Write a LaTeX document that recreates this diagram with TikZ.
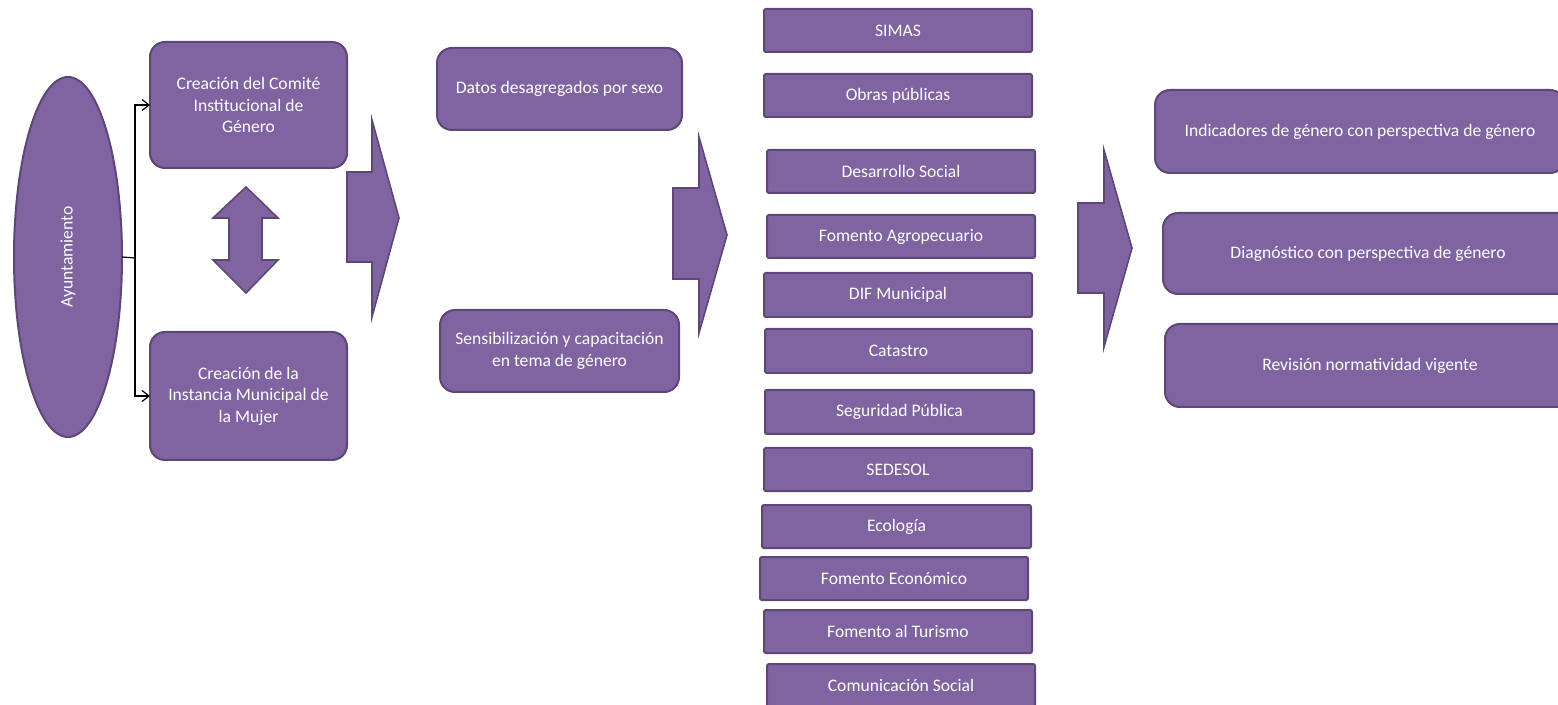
\documentclass[tikz,border=0pt]{standalone}
\usepackage{fontspec}
\setmainfont{Carlito}
\usetikzlibrary{shapes.geometric,arrows.meta}
\definecolor{pfill}{HTML}{8064A2}
\definecolor{pdraw}{HTML}{5C4776}
\tikzset{
  base/.style={fill=pfill,draw=pdraw,line width=1pt,text=white,font=\fontsize{8.8}{10.8}\selectfont,align=center,inner sep=0pt,outer sep=0pt},
  rbox/.style={base,rounded corners=7.5pt},
  sbox/.style={base,rounded corners=1pt},
  bigarrow/.style={fill=pfill,draw=pdraw,line width=0.8pt,line join=miter},
  conn/.style={draw=black,line width=0.6pt,-{Straight Barb[length=3.5pt,width=5.5pt]}}
}
\newcommand{\bx}[7]{\node[#1, minimum width={(#5-#3)*0.5pt}, minimum height={(#6-#4)*0.5pt}] (#2) at ({(#3+#5)/2},{(#4+#6)/2}) {#7};}
\begin{document}
\begin{tikzpicture}[x=0.5pt,y=-0.5pt]
\useasboundingbox (0,0) rectangle (1558,705);
\clip (0,0) rectangle (1558,705);
% ellipse
\node[base,ellipse,minimum width=54pt,minimum height=180pt] (ayu) at (68,257) {\rotatebox{90}{Ayuntamiento}};
% left boxes
\bx{rbox}{comite}{150}{42}{347}{168}{Creación del Comité\\Institucional de\\Género}
\bx{rbox}{instancia}{150}{332}{347}{460}{Creación de la\\Instancia Municipal de\\la Mujer}
% connectors
\coordinate (j) at (135,258);
\draw[line width=0.6pt] (ayu.east) -- (j);
\draw[conn] (j) |- (comite.west);
\draw[conn] (j) |- (instancia.west);
% double arrow
\draw[bigarrow] (246,187) -- (278,218) -- (262,218) -- (262,260) -- (278,260) -- (246,293) -- (213,260) -- (229,260) -- (229,218) -- (213,218) -- cycle;
% big arrow 1
\draw[bigarrow] (347,172) -- (372,172) -- (372,120) -- (399,218) -- (372,317) -- (372,262) -- (347,262) -- cycle;
% middle boxes
\bx{rbox}{datos}{437}{48}{682}{130}{Datos desagregados por sexo}
\bx{rbox}{sensi}{440}{310}{679}{392}{Sensibilización y capacitación\\en tema de género}
% big arrow 2
\draw[bigarrow] (673,188) -- (699,188) -- (699,137) -- (727,235) -- (699,333) -- (699,279) -- (673,279) -- cycle;
% column boxes
\bx{sbox}{simas}{764}{9}{1032}{52}{SIMAS}
\bx{sbox}{obras}{764}{74}{1032}{117}{Obras públicas}
\bx{sbox}{desarrollo}{767}{150}{1035}{193}{Desarrollo Social}
\bx{sbox}{agro}{767}{215}{1035}{258}{Fomento Agropecuario}
\bx{sbox}{dif}{764}{273}{1032}{317}{DIF Municipal}
\bx{sbox}{catastro}{765}{329}{1032}{373}{Catastro}
\bx{sbox}{seguridad}{765}{390}{1034}{434}{Seguridad Pública}
\bx{sbox}{sedesol}{764}{448}{1032}{491}{SEDESOL}
\bx{sbox}{ecologia}{762}{505}{1031}{548}{Ecología}
\bx{sbox}{economico}{760}{557}{1028}{600}{Fomento Económico}
\bx{sbox}{turismo}{764}{610}{1032}{653}{Fomento al Turismo}
\bx{sbox}{comunicacion}{767}{664}{1035}{707}{Comunicación Social}
% big arrow 3
\draw[bigarrow] (1078,203) -- (1104,203) -- (1104,150) -- (1132,248) -- (1104,347) -- (1104,293) -- (1078,293) -- cycle;
% right boxes
\bx{rbox}{indicadores}{1155}{90}{1565}{173}{Indicadores de género con perspectiva de género}
\bx{rbox}{diagnostico}{1163}{213}{1573}{294}{Diagnóstico con perspectiva de género}
\bx{rbox}{revision}{1165}{324}{1575}{407}{Revisión normatividad vigente}
\end{tikzpicture}
\end{document}
